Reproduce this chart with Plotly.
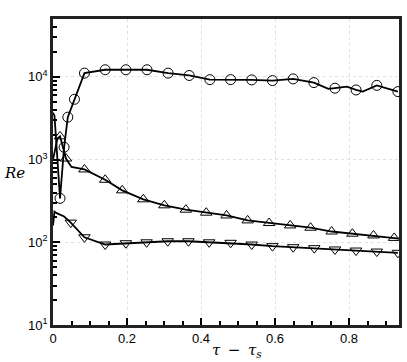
import plotly.graph_objects as go

# circles series (top)
circ_x = [0, 0.004, 0.019, 0.030, 0.040, 0.058, 0.085, 0.141, 0.197, 0.254, 0.311, 0.368,
          0.424, 0.480, 0.537, 0.593, 0.649, 0.705, 0.744, 0.762, 0.794, 0.819, 0.837, 0.875, 0.932]
circ_y = [3700, 3400, 340, 1410, 3260, 5360, 11100, 12200, 12200, 12200, 11100, 10400,
          9270, 9270, 9200, 9020, 9460, 8530, 7150, 7300, 7620, 6950, 6640, 7900, 6640]
circ_mk = [2, 3, 4, 5, 6, 7, 8, 9, 10, 11, 12, 13, 14, 15, 16, 17, 19, 21, 23, 24]

# up-triangle series (middle)
up_x = [0, 0.006, 0.012, 0.019, 0.035, 0.050, 0.085, 0.141, 0.187, 0.244, 0.301, 0.359,
        0.414, 0.469, 0.526, 0.584, 0.641, 0.696, 0.753, 0.809, 0.866, 0.922, 0.935]
up_y = [1000, 1400, 1800, 1910, 1030, 815, 760, 570, 425, 331, 280, 248,
        228, 211, 184, 171, 160, 150, 135, 127, 121, 113, 111]
up_mk = [3, 4, 6, 7, 8, 9, 10, 11, 12, 13, 14, 15, 16, 17, 18, 19, 20, 21]

# down-triangle series (bottom)
dn_x = [0, 0.004, 0.010, 0.020, 0.030, 0.048, 0.085, 0.141, 0.197, 0.253, 0.310, 0.366,
        0.422, 0.480, 0.537, 0.593, 0.649, 0.706, 0.762, 0.819, 0.875, 0.932]
dn_y = [160, 235, 225, 215, 205, 173, 115, 94, 97.5, 100, 103, 103,
        100, 98.6, 94, 89.8, 87.3, 84.9, 81.9, 79.5, 77.3, 74.6]
dn_mk = list(range(5, 22))

x_ticks = [0, 0.2, 0.4, 0.6, 0.8]
x_labels = ["0", "0.2", "0.4", "0.6", "0.8"]
y_ticks = [10, 100, 1000, 10000]
y_labels = ["10<sup>1</sup>", "10<sup>2</sup>", "10<sup>3</sup>", "10<sup>4</sup>"]
y_minor = [m * 10 ** e for e in range(1, 5) for m in range(2, 10)]

fig = go.Figure()

series = [
    (circ_x, circ_y, circ_mk, "circle-open", 10),
    (up_x, up_y, up_mk, "triangle-up-open", 10),
    (dn_x, dn_y, dn_mk, "triangle-down-open", 10),
]
for xs, ys, mk, sym, sz in series:
    fig.add_trace(go.Scatter(x=xs, y=ys, mode="lines",
                             line=dict(color="black", width=1.8),
                             showlegend=False))
    fig.add_trace(go.Scatter(x=[xs[i] for i in mk], y=[ys[i] for i in mk],
                             mode="markers",
                             marker=dict(symbol=sym, size=sz, color="black",
                                         line=dict(width=1, color="black")),
                             showlegend=False))

common = dict(
    ticks="inside", ticklen=7, tickwidth=2, tickcolor="black",
    showline=True, linewidth=2.5, linecolor="#222", mirror=True,
    showgrid=True, gridcolor="#e0e0e0", griddash="dot", gridwidth=1,
    zeroline=False, automargin=False,
    tickfont=dict(family="Liberation Sans", size=13, color="black"),
)
fig.update_xaxes(
    range=[0, 0.935], tickmode="array", tickvals=x_ticks, ticktext=x_labels,
    minor=dict(tickmode="array", tickvals=[i * 0.05 for i in range(1, 19)],
               ticks="inside", ticklen=4, tickcolor="black", showgrid=False),
    **common,
)
fig.update_yaxes(
    type="log", range=[1, 4.70], tickmode="array", tickvals=y_ticks, ticktext=y_labels,
    minor=dict(tickmode="array", tickvals=y_minor, ticks="inside", ticklen=4,
               tickcolor="black", showgrid=False),
    **common,
)

fig.update_layout(
    width=407, height=362,
    margin=dict(l=53, r=8, t=19, b=37),
    plot_bgcolor="white", paper_bgcolor="white",
    annotations=[
        dict(text="<i>Re</i>", xref="paper", yref="paper", x=-0.147, y=0.497,
             xanchor="left", showarrow=False,
             font=dict(family="DejaVu Serif", size=15, color="black")),
        dict(text="<i>τ</i>\u2002−\u2002<i>τ<sub>s</sub></i>", xref="paper", yref="paper",
             x=0.532, y=-0.046, yanchor="top", showarrow=False,
             font=dict(family="DejaVu Serif", size=15, color="black")),
    ],
)

# page body has a default margin; drop it so the figure sits at the window corner
fig.write_html("out.html", config={"displayModeBar": False},
               post_script="document.body.style.margin='0';")
